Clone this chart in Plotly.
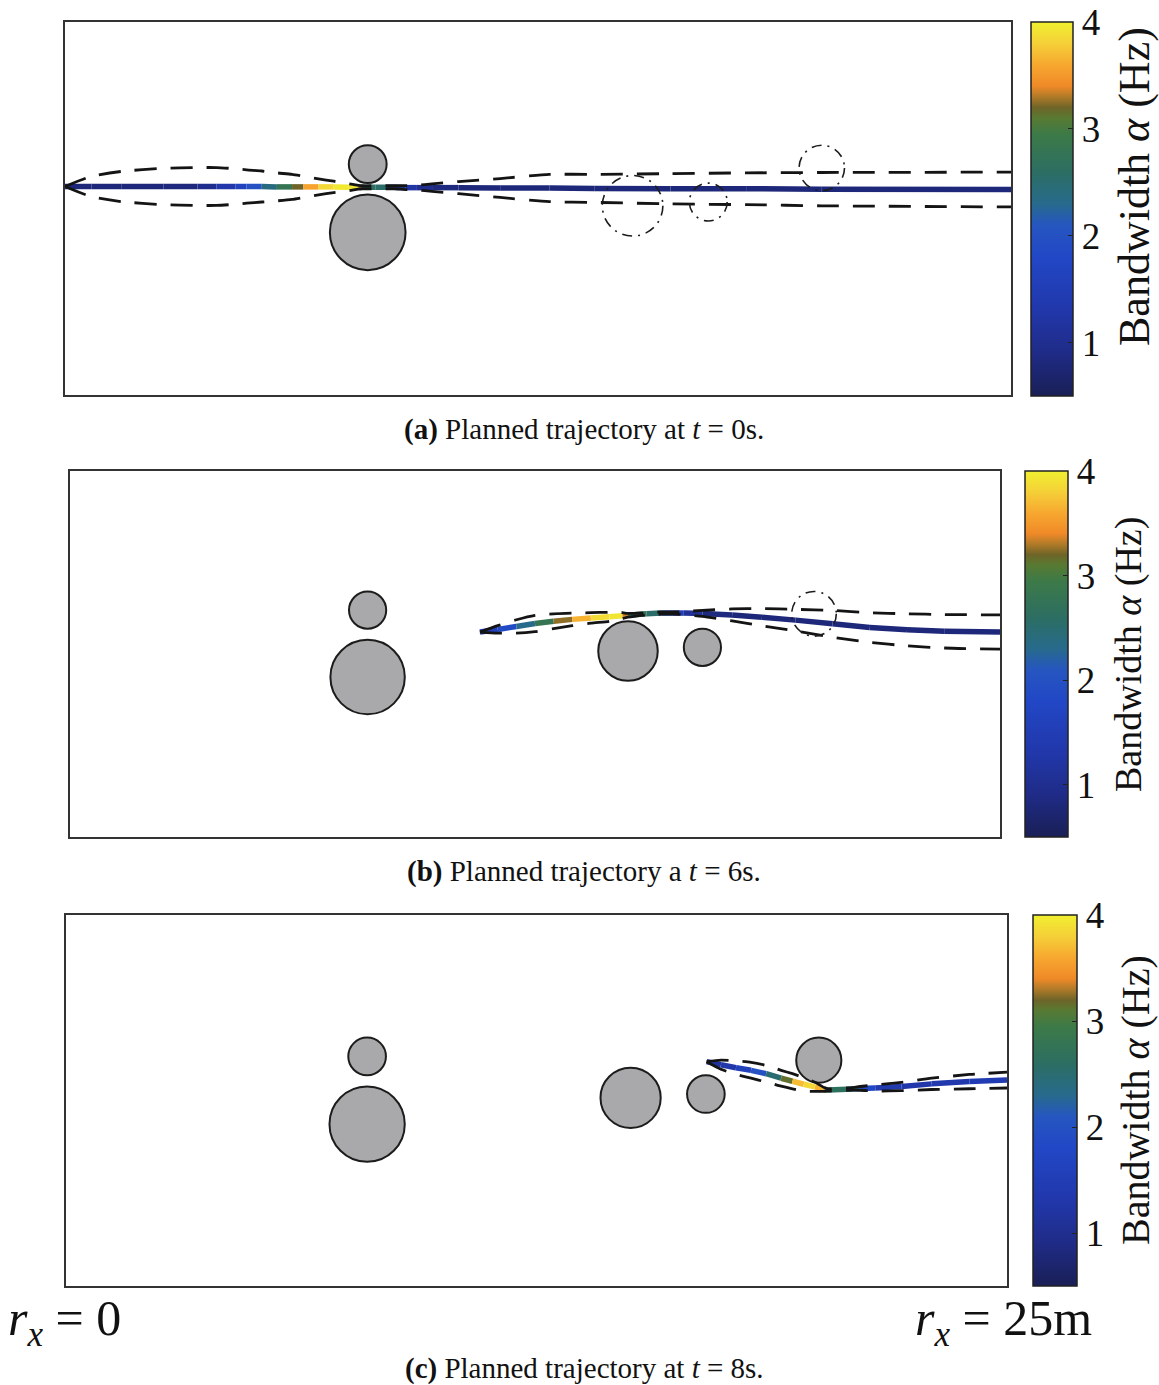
import plotly.graph_objects as go
from plotly.colors import sample_colorscale

FIG_W, FIG_H = 1159, 1385
FONT = "Liberation Serif"

# ---------------- data ----------------
# Obstacles: centre x, centre y, radius (m)
OBS_X = [8.0, 8.0, 15.0, 17.0, 20.0]
OBS_Y = [6.1, 4.3, 5.0, 5.1, 6.0]
OBS_R = [0.5, 1.0, 0.8, 0.5, 0.6]
# Obstacles already sensed at each planning instant (others drawn dash-dot)
KNOWN_A = [True, True, False, False, False]
KNOWN_B = [True, True, True, True, False]
KNOWN_C = [True, True, True, True, True]

# Panel (a): planned trajectory at t = 0 s
A_X = [0.0, 0.7, 1.5, 2.6, 3.5, 4.0, 4.5, 4.8, 5.2, 5.6, 6.0, 6.3, 6.7, 7.1, 7.5, 7.75,
       7.85, 8.2, 8.5, 8.7, 9.0, 9.3, 9.7, 10.4, 11.5, 12.8, 14.0, 16.0, 18.0, 20.0, 25.0]
A_Y = [5.51, 5.51, 5.51, 5.51, 5.51, 5.51, 5.51, 5.51, 5.51, 5.50, 5.50, 5.50, 5.50, 5.50, 5.49, 5.49,
       5.49, 5.49, 5.49, 5.49, 5.48, 5.48, 5.48, 5.48, 5.47, 5.47, 5.46, 5.45, 5.45, 5.44, 5.43]
A_ALPHA = [0.8, 0.8, 0.8, 0.8, 0.85, 1.1, 1.5, 1.8, 2.2, 2.6, 3.0, 3.4, 3.75, 3.95, 3.95, 3.9,
           2.7, 2.6, 2.5, 1.9, 1.4, 1.1, 0.9, 0.8, 0.8, 0.8, 0.8, 0.8, 0.8, 0.8, 0.8]
A_W = [0.0, 0.27, 0.40, 0.48, 0.50, 0.50, 0.47, 0.44, 0.41, 0.37, 0.33, 0.28, 0.21, 0.15, 0.09, 0.05,
       0.04, 0.04, 0.04, 0.04, 0.05, 0.06, 0.10, 0.16, 0.25, 0.36, 0.37, 0.40, 0.42, 0.44, 0.46]

# Panel (b): planned trajectory at t = 6 s
B_X = [11.02, 11.5, 12.0, 12.5, 13.0, 13.5, 14.0, 14.5, 14.85, 15.0, 15.5, 15.9, 16.2, 16.5,
       17.0, 17.8, 18.6, 19.5, 20.5, 21.5, 22.5, 23.5, 25.0]
B_Y = [5.51, 5.58, 5.66, 5.74, 5.80, 5.85, 5.89, 5.92, 5.95, 5.96, 6.00, 6.02, 6.02, 6.02,
       6.01, 5.97, 5.91, 5.83, 5.73, 5.63, 5.57, 5.53, 5.51]
B_ALPHA = [1.5, 1.7, 2.0, 2.6, 3.0, 3.5, 3.8, 3.95, 3.9, 2.8, 2.7, 2.4, 1.8, 1.2,
           0.9, 0.8, 0.8, 0.8, 0.8, 0.8, 0.8, 0.8, 0.8]
B_W = [0.0, 0.10, 0.18, 0.22, 0.20, 0.17, 0.14, 0.12, 0.08, 0.05, 0.03, 0.03, 0.03, 0.04,
       0.08, 0.16, 0.23, 0.29, 0.36, 0.40, 0.43, 0.45, 0.46]

# Panel (c): planned trajectory at t = 8 s
C_X = [17.02, 17.4, 17.8, 18.2, 18.6, 19.0, 19.3, 19.6, 19.9, 20.15, 20.25, 20.75, 21.1, 21.5,
       22.2, 23.0, 24.0, 25.0]
C_Y = [5.96, 5.88, 5.80, 5.73, 5.64, 5.52, 5.44, 5.36, 5.29, 5.22, 5.21, 5.23, 5.25, 5.26,
       5.30, 5.37, 5.43, 5.47]
C_ALPHA = [1.1, 1.2, 1.4, 1.8, 2.2, 2.8, 3.5, 3.9, 3.8, 3.5, 2.7, 2.6, 2.1, 1.5,
           1.3, 1.3, 1.4, 1.5]
C_W = [0.0, 0.12, 0.18, 0.21, 0.22, 0.21, 0.20, 0.18, 0.12, 0.05, 0.03, 0.03, 0.05, 0.08,
       0.11, 0.15, 0.19, 0.21]

ALPHA_MIN, ALPHA_MAX = 0.5, 4.0
CBAR_TICKS = [1, 2, 3, 4]
CBAR_TITLE = "Bandwidth <i>α</i> (Hz)"
CAPTIONS = [
    "<b>(a)</b> Planned trajectory at <i>t</i> = 0s.",
    "<b>(b)</b> Planned trajectory a <i>t</i> = 6s.",
    "<b>(c)</b> Planned trajectory at <i>t</i> = 8s.",
]
X_START_LABEL = "<i>r</i><sub><i>x</i></sub> = 0"
X_END_LABEL = "<i>r</i><sub><i>x</i></sub> = 25m"
X_RANGE = [0.0, 25.0]

# bandwidth colour map
COLORSCALE = [
    [0.000, "#1a1f56"],
    [0.114, "#1f2b86"],
    [0.229, "#2137aa"],
    [0.371, "#2247c6"],
    [0.457, "#2656c0"],
    [0.514, "#276a8c"],
    [0.600, "#2c6e62"],
    [0.700, "#3d7a48"],
    [0.743, "#587a32"],
    [0.771, "#6e6428"],
    [0.800, "#b07a28"],
    [0.829, "#f08a28"],
    [0.886, "#f7a830"],
    [0.943, "#f5d038"],
    [1.000, "#f0f030"],
]

# ---------------- layout boxes (pixels: left, top, right, bottom) ----------------
PLOT_BOX = [(65, 22, 1011, 395), (70, 471, 1000, 837), (66, 915, 1007, 1286)]
CBAR_BOX = [(1031, 22, 1073, 396), (1025, 471, 1068, 837), (1033, 915, 1077, 1286)]
# colour-bar title: centre (x, y) in pixels and font size
CBAR_TITLE_POS = [(1134, 187, 44), (1128, 655, 38), (1135, 1100, 40)]
CAPTION_Y = [430, 872, 1368]


def px_x(p):
    return p / FIG_W


def px_y(p):
    return 1 - p / FIG_H


def colour(v):
    t = (v - ALPHA_MIN) / (ALPHA_MAX - ALPHA_MIN)
    t = min(max(t, 0.0), 1.0)
    return sample_colorscale(COLORSCALE, [t])[0]


fig = go.Figure()
panels = [
    (A_X, A_Y, A_ALPHA, A_W, KNOWN_A),
    (B_X, B_Y, B_ALPHA, B_W, KNOWN_B),
    (C_X, C_Y, C_ALPHA, C_W, KNOWN_C),
]

layout_axes = {}
shapes = []
annotations = []

for k, (xs, ys, al, ws, known) in enumerate(panels):
    sfx = "" if k == 0 else str(k + 1)
    xa, ya = "x" + sfx, "y" + sfx
    l, t, r, b = PLOT_BOX[k]
    y_top = (X_RANGE[1] - X_RANGE[0]) * (b - t) / (r - l)
    axis_style = dict(showline=True, mirror=True, linecolor="#333333", linewidth=1.5,
                      showgrid=False, zeroline=False, showticklabels=False, ticks="",
                      fixedrange=True)
    layout_axes["xaxis" + sfx] = dict(domain=[px_x(l), px_x(r)], range=X_RANGE,
                                      anchor=ya, **axis_style)
    layout_axes["yaxis" + sfx] = dict(domain=[px_y(b), px_y(t)], range=[0, y_top],
                                      anchor=xa, **axis_style)

    # obstacles
    for ox, oy, orad, kn in zip(OBS_X, OBS_Y, OBS_R, known):
        if kn:
            shapes.append(dict(type="circle", xref=xa, yref=ya, layer="below",
                               x0=ox - orad, x1=ox + orad, y0=oy - orad, y1=oy + orad,
                               fillcolor="#a9a9ab", line=dict(color="#1c1c1c", width=2)))
        else:
            shapes.append(dict(type="circle", xref=xa, yref=ya, layer="above",
                               x0=ox - orad, x1=ox + orad, y0=oy - orad, y1=oy + orad,
                               fillcolor="rgba(0,0,0,0)",
                               line=dict(color="#1c1c1c", width=1.6, dash="10px,6px,2px,6px")))

    # trajectory, coloured by bandwidth
    for i in range(len(xs) - 1):
        fig.add_trace(go.Scatter(
            x=[xs[i], xs[i + 1]], y=[ys[i], ys[i + 1]], mode="lines",
            line=dict(color=colour(0.5 * (al[i] + al[i + 1])), width=5.5),
            hoverinfo="skip", showlegend=False, xaxis=xa, yaxis=ya))

    # tracking envelope
    upper = [yv + wv for yv, wv in zip(ys, ws)]
    lower = [yv - wv for yv, wv in zip(ys, ws)]
    for env in (upper, lower):
        fig.add_trace(go.Scatter(
            x=xs, y=env, mode="lines", line=dict(color="#141414", width=2.8, dash="22px,14px",
                                                 shape="spline", smoothing=0.6),
            hoverinfo="skip", showlegend=False, xaxis=xa, yaxis=ya))

    # colour bar
    cl, ct, cr, cb = CBAR_BOX[k]
    fig.add_trace(go.Scatter(
        x=[None], y=[None], mode="markers", xaxis=xa, yaxis=ya, showlegend=False,
        hoverinfo="skip",
        marker=dict(color=[ALPHA_MIN], cmin=ALPHA_MIN, cmax=ALPHA_MAX, colorscale=COLORSCALE,
                    showscale=True,
                    colorbar=dict(
                        x=px_x(cl), xanchor="left", xpad=0, ypad=0,
                        y=px_y((ct + cb) / 2), yanchor="middle",
                        len=(cb - ct) / FIG_H, lenmode="fraction",
                        thickness=cr - cl, thicknessmode="pixels",
                        outlinewidth=1.5, outlinecolor="#222222",
                        tickvals=CBAR_TICKS, ticks="inside", ticklen=5,
                        tickcolor="#222222", tickwidth=1.2, tickprefix="\u00a0",
                        tickfont=dict(family=FONT, size=37, color="#111111"),
                    ))))

    tx, ty, tsize = CBAR_TITLE_POS[k]
    annotations.append(dict(text=CBAR_TITLE, xref="paper", yref="paper",
                            x=px_x(tx), y=px_y(ty), xanchor="center", yanchor="middle",
                            textangle=-90, showarrow=False,
                            font=dict(family=FONT, size=tsize, color="#111111")))

    annotations.append(dict(text=CAPTIONS[k], xref="paper", yref="paper",
                            x=px_x(584), y=px_y(CAPTION_Y[k]), xanchor="center",
                            yanchor="middle", showarrow=False,
                            font=dict(family=FONT, size=29, color="#111111")))

annotations.append(dict(text=X_START_LABEL, xref="paper", yref="paper", x=px_x(6),
                        y=px_y(1322), xanchor="left", yanchor="middle", showarrow=False,
                        font=dict(family=FONT, size=50, color="#111111")))
annotations.append(dict(text=X_END_LABEL, xref="paper", yref="paper", x=px_x(1094),
                        y=px_y(1322), xanchor="right", yanchor="middle", showarrow=False,
                        font=dict(family=FONT, size=50, color="#111111")))

fig.update_layout(
    width=FIG_W, height=FIG_H, margin=dict(l=0, r=0, t=0, b=0),
    paper_bgcolor="white", plot_bgcolor="white",
    shapes=shapes, annotations=annotations, showlegend=False,
    **layout_axes,
)

fig.write_html("out.html")
